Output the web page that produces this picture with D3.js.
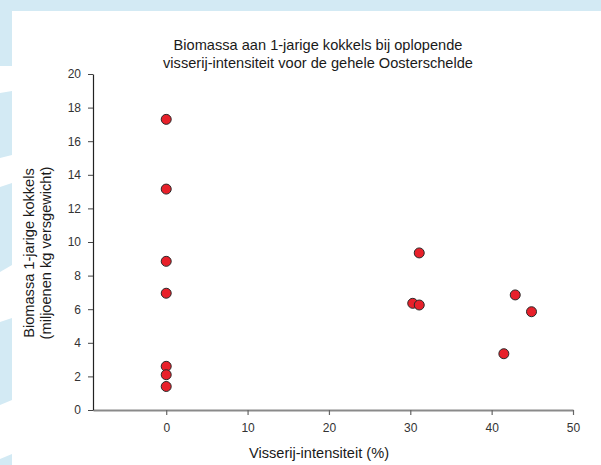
<!DOCTYPE html>
<html><head><meta charset="utf-8">
<script src="https://cdn.jsdelivr.net/npm/d3@7"></script>
<style>html,body{margin:0;padding:0;background:#fff;}svg{display:block;}</style>
</head><body>
<svg id="c" width="601" height="465"></svg>
<script>
const titleLines = ["Biomassa aan 1-jarige kokkels bij oplopende", "visserij-intensiteit voor de gehele Oosterschelde"];
const yLabelLines = ["Biomassa 1-jarige kokkels", "(miljoenen kg versgewicht)"];
const xLabel = "Visserij-intensiteit (%)";
const intensity = [0, 0, 0, 0, 0, 0, 0, 31.1, 30.3, 31.1, 42.9, 44.9, 41.5];
const biomass   = [17.3, 13.15, 8.85, 6.95, 2.6, 2.1, 1.4, 9.35, 6.35, 6.25, 6.85, 5.85, 3.35];
const xTicks = [0, 10, 20, 30, 40, 50];
const yTicks = [0, 2, 4, 6, 8, 10, 12, 14, 16, 18, 20];

const svg = d3.select("#c");
const font = "'Liberation Sans', Arial, sans-serif";
const blue = "#d3eaf4";

// decorative background
svg.append("rect").attr("x",0).attr("y",0).attr("width",601).attr("height",11).attr("fill",blue);
const bands = [
  [[0,0],[12,0],[12,66],[0,66]],
  [[0,93],[12,91],[12,155],[0,158]],
  [[0,187],[12,183],[12,265],[0,272]],
  [[0,322],[12,318],[12,400],[0,405]],
  [[0,459],[12,454],[12,465],[0,465]]
];
svg.selectAll("polygon.band").data(bands).enter().append("polygon")
  .attr("class","band").attr("points", d => d.map(p => p.join(",")).join(" "))
  .attr("fill", blue);

const x = d3.scaleLinear().domain([-9, 50]).range([93, 573]);
const y = d3.scaleLinear().domain([0, 20]).range([410, 74]);

// x axis
const gx = svg.append("g").attr("transform", "translate(0,410)")
  .call(d3.axisBottom(x).tickValues(xTicks).tickSize(5).tickPadding(8).tickSizeOuter(0));
gx.select(".domain").attr("stroke", "#8a8a8a").attr("stroke-width", 2);
gx.selectAll(".tick line").attr("stroke", "#666").attr("stroke-width", 1.2);
gx.selectAll(".tick text").attr("font-family", font).attr("font-size", 12).attr("fill", "#333");

// y axis
const gy = svg.append("g").attr("transform", "translate(93,0)")
  .call(d3.axisLeft(y).tickValues(yTicks).tickSize(5).tickPadding(7).tickSizeOuter(0));
gy.select(".domain").attr("stroke", "#222").attr("stroke-width", 1.2);
gy.selectAll(".tick line").attr("stroke", "#444");
gy.selectAll(".tick text").attr("font-family", font).attr("font-size", 12).attr("fill", "#333");

// points
const pts = intensity.map((v, i) => ({x: v, y: biomass[i]}));
svg.append("g").selectAll("circle").data(pts).enter().append("circle")
  .attr("cx", d => x(d.x)).attr("cy", d => y(d.y)).attr("r", 5)
  .attr("fill", "#e8202a").attr("stroke", "#2a2a2a").attr("stroke-width", 1);

// title
svg.append("g").selectAll("text").data(titleLines).enter().append("text")
  .attr("x", 318).attr("y", (d, i) => 50 + i * 17.5)
  .attr("text-anchor", "middle").attr("font-family", font).attr("font-size", 14.6)
  .attr("fill", "#1a1a1a").text(d => d);

// y label
svg.append("g").selectAll("text").data(yLabelLines).enter().append("text")
  .attr("transform", (d, i) => `translate(${33.5 + i * 17.5},253) rotate(-90)`)
  .attr("text-anchor", "middle").attr("font-family", font).attr("font-size", 14.6)
  .attr("fill", "#1a1a1a").text(d => d);

// x label
svg.append("text").attr("x", 319).attr("y", 458).attr("text-anchor", "middle")
  .attr("font-family", font).attr("font-size", 14.6).attr("fill", "#1a1a1a").text(xLabel);
</script>
</body></html>
